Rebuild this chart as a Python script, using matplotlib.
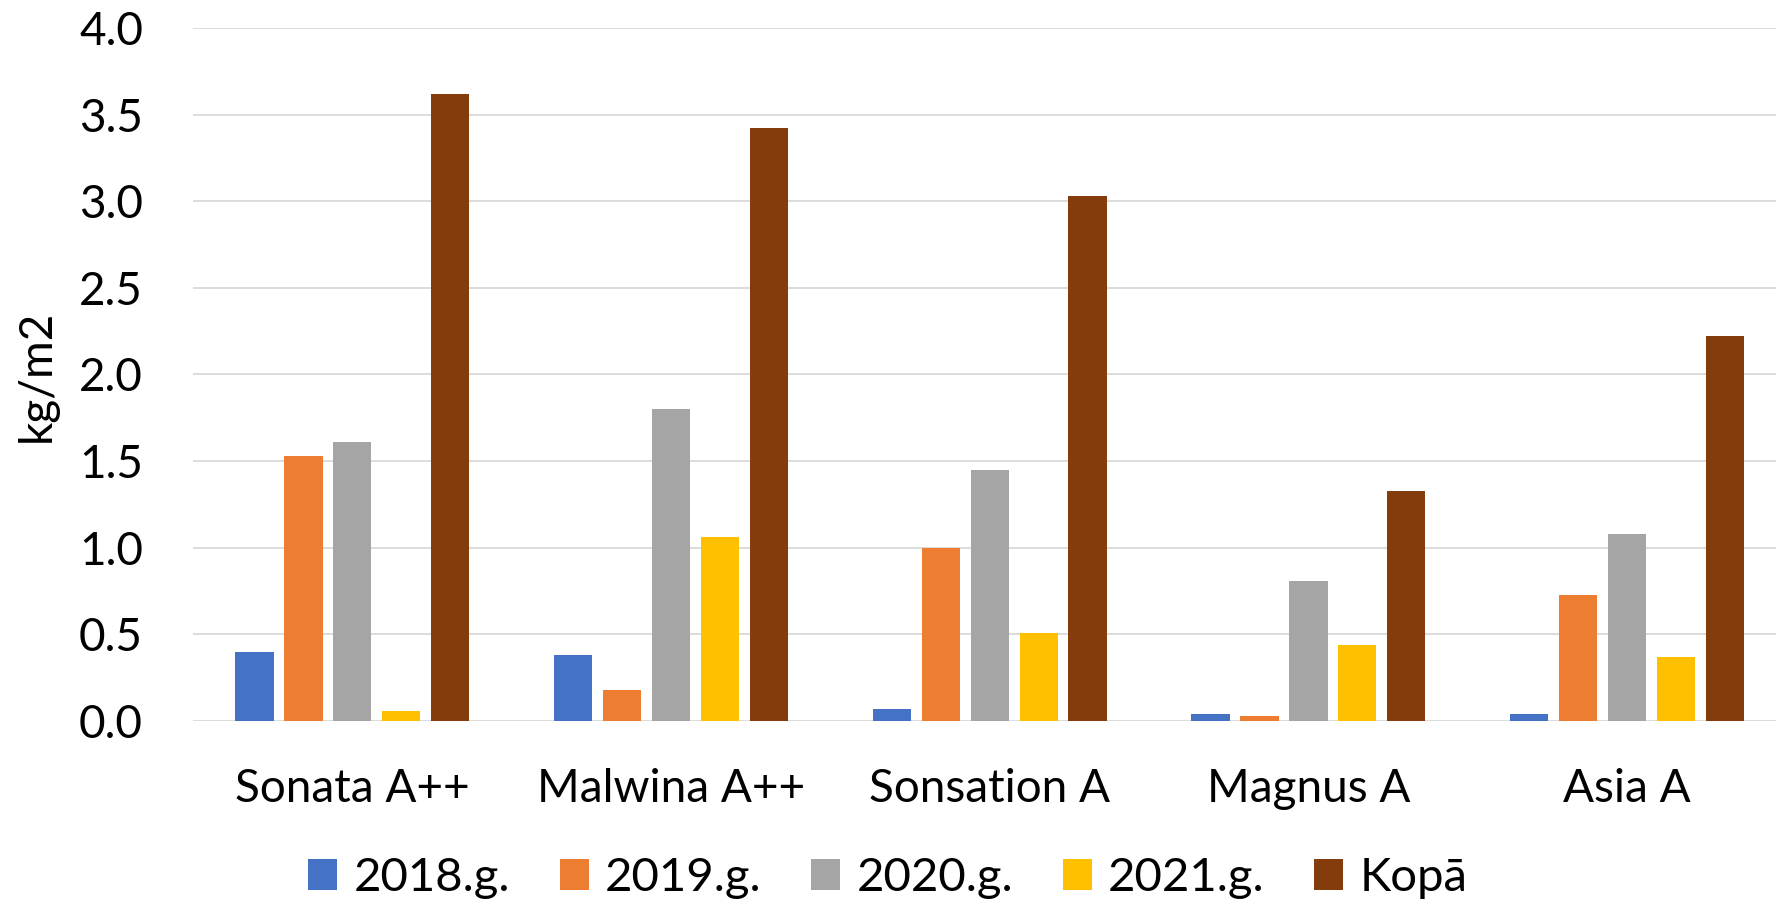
import numpy as np
import matplotlib
matplotlib.use("Agg")
import matplotlib.pyplot as plt

# dati
categories = ["Sonata A++", "Malwina A++", "Sonsation A", "Magnus A", "Asia A"]
series_names = ["2018.g.", "2019.g.", "2020.g.", "2021.g.", "Kopā"]
v2018 = [0.40, 0.38, 0.07, 0.04, 0.04]
v2019 = [1.53, 0.18, 1.00, 0.03, 0.73]
v2020 = [1.61, 1.80, 1.45, 0.81, 1.08]
v2021 = [0.06, 1.06, 0.51, 0.44, 0.37]
kopa = [3.62, 3.42, 3.03, 1.33, 2.22]
yticks = [0.0, 0.5, 1.0, 1.5, 2.0, 2.5, 3.0, 3.5, 4.0]

colors = ["#4472C4", "#ED7D31", "#A5A5A5", "#FFC000", "#843C0C"]
all_series = [v2018, v2019, v2020, v2021, kopa]

plt.rcParams['font.family'] = ['Lato', 'DejaVu Sans']

W, H = 1776, 906
fig = plt.figure(figsize=(W / 100, H / 100), dpi=100)
# plot area in pixels: left 193, top 28, bottom 721
ax = fig.add_axes([193 / W, 1 - 721 / H, 1 - 193 / W, (721 - 28) / H])

x = np.arange(len(categories))
step = 0.1535
width = 0.120
for i, (name, vals) in enumerate(zip(series_names, all_series)):
    ax.bar(x + (i - 2) * step, vals, width=width, color=colors[i],
           label=name, zorder=3)

ax.set_xlim(-0.5, -0.5 + (W - 193) / 318.7)
ax.set_ylim(0, 4.0)
ax.set_yticks(yticks)
ax.set_yticklabels([f"{t:.1f}" for t in yticks])
ax.set_xticks(x)
ax.set_xticklabels(categories)

ax.set_axisbelow(True)
ax.yaxis.grid(True, color="#D9D9D9", linewidth=1.3)
ax.xaxis.grid(False)
for s in ax.spines.values():
    s.set_visible(False)
ax.tick_params(axis='y', length=0, pad=36, labelsize=33)
ax.tick_params(axis='x', length=0, pad=34, labelsize=33)

fig.text(37 / W, 1 - 376 / H, "kg/m2", rotation=90, ha='center',
         va='center', fontsize=33)

fig.legend(loc='center', bbox_to_anchor=(0.5, 1 - 878 / H), ncol=5,
           frameon=False, fontsize=34, handlelength=0.615,
           handleheight=0.636, handletextpad=0.345, columnspacing=1.05,
           borderpad=0, borderaxespad=0)

fig.savefig("out.png", dpi=100)
